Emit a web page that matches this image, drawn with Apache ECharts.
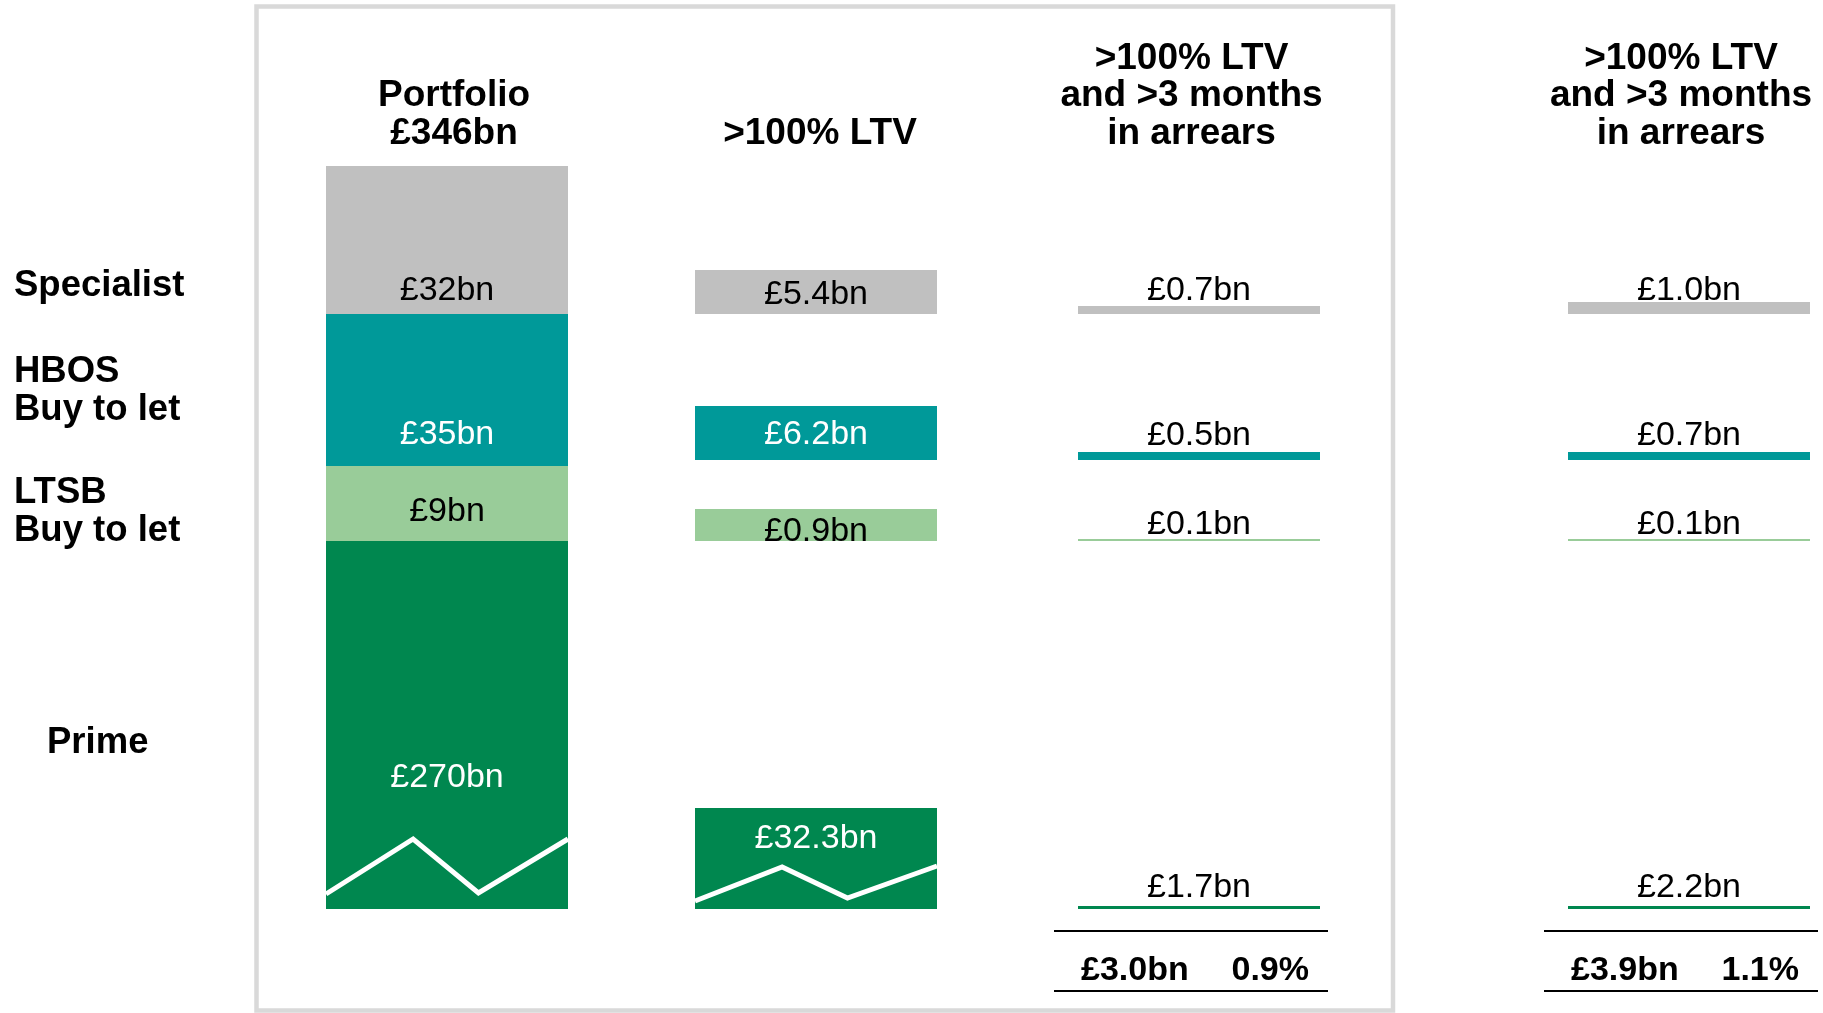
<!DOCTYPE html>
<html>
<head>
    <meta charset="utf-8">
    <title>Mortgage portfolio - LTV and arrears</title>
    <script src="https://cdn.jsdelivr.net/npm/echarts@6/dist/echarts.min.js"></script>
    <style type="text/css">
        html, body { margin: 0; padding: 0; background: #ffffff; }
        #main { width: 1823px; height: 1013px; }
    </style>
</head>
<body>
<div id="main"></div>
<script>
    // rows, bottom to top
    var rowNames = ['Prime', 'LTSB\nBuy to let', 'HBOS\nBuy to let', 'Specialist'];
    var rowColors = ['#00874f', '#99cc99', '#009999', '#c0c0c0'];
    var rowInsideText = ['#ffffff', '#000000', '#ffffff', '#000000'];

    // values in £bn, same row order
    var portfolioBn = [270, 9, 35, 32];
    var ltvOver100Bn = [32.3, 0.9, 6.2, 5.4];
    var arrearsBn = [1.7, 0.1, 0.5, 0.7];
    var arrearsBn2 = [2.2, 0.1, 0.7, 1.0];
    var arrearsTotalBn = [3.0, 3.9];
    var arrearsTotalPct = [0.9, 1.1];

    var portfolioTotal = portfolioBn.reduce(function (a, b) { return a + b; }, 0);
    var columnTitles = [
        'Portfolio\n£' + portfolioTotal + 'bn',
        '>100% LTV',
        '>100% LTV\nand >3 months\nin arrears',
        '>100% LTV\nand >3 months\nin arrears'
    ];

    // the picture is not drawn to scale: drawn heights per column (layout units = px)
    var bandBase = [0, 368, 449, 595];
    var drawnHeight = [[368, 75, 152, 148], [101, 32, 54, 44], [3, 2, 8, 8], [3, 2, 8, 12]];
    var labelLift = [[131.5, 29.5, 31.5, 23.5], [70.5, 9.5, 25.5, 19.5], [21.5, 16, 24.5, 23.5], [21.5, 16, 24.5, 23.5]];

    var columns = [
        {values: portfolioBn, decimals: 0, inside: true, continuous: true, left: 326, titlePad: [0, 0, 0, 14]},
        {values: ltvOver100Bn, decimals: 1, inside: true, continuous: false, left: 695, titlePad: [0, 0, 0, 8]},
        {values: arrearsBn, decimals: 1, inside: false, continuous: false, left: 1078, titlePad: [0, 15, 0, 0]},
        {values: arrearsBn2, decimals: 1, inside: false, continuous: false, left: 1568, titlePad: [0, 16, 0, 0]}
    ];

    var FONT = '"Liberation Sans", Arial, Helvetica, sans-serif';
    var BAR_W = 242;
    var VALUE_SIZE = 34;
    var Y_MIN = -101, Y_MAX = 903;

    var chart = echarts.init(document.getElementById('main'));

    function buildSeries(ci) {
        var c = columns[ci];
        var list = [];
        for (var r = 0; r < rowNames.length; r++) {
            list.push({
                name: rowNames[r],
                type: 'bar',
                stack: 'col' + ci,
                xAxisIndex: ci,
                yAxisIndex: ci,
                barWidth: BAR_W,
                silent: true,
                itemStyle: {color: rowColors[r]},
                label: {
                    show: true,
                    position: 'insideBottom',
                    distance: labelLift[ci][r] - VALUE_SIZE / 2,
                    color: c.inside ? rowInsideText[r] : '#000000',
                    fontFamily: FONT,
                    fontSize: VALUE_SIZE,
                    lineHeight: VALUE_SIZE,
                    formatter: '£' + c.values[r].toFixed(c.decimals) + 'bn'
                },
                data: [drawnHeight[ci][r]]
            });
            if (r < rowNames.length - 1) {
                list.push({
                    type: 'bar',
                    stack: 'col' + ci,
                    xAxisIndex: ci,
                    yAxisIndex: ci,
                    barWidth: BAR_W,
                    silent: true,
                    itemStyle: {color: 'transparent'},
                    data: [c.continuous ? 0 : bandBase[r + 1] - (bandBase[r] + drawnHeight[ci][r])]
                });
            }
        }
        return list;
    }

    var grids = [], xAxes = [], yAxes = [], series = [];
    columns.forEach(function (c, ci) {
        grids.push({left: c.left, top: 6, width: BAR_W, height: 1004, outerBoundsMode: 'none', containLabel: false});
        xAxes.push({
            type: 'category',
            gridIndex: ci,
            position: 'top',
            data: [columnTitles[ci]],
            axisLine: {show: false, onZero: false},
            axisTick: {show: false},
            axisLabel: {
                interval: 0,
                margin: -146.5,
                padding: c.titlePad,
                fontFamily: FONT,
                fontSize: 37,
                fontWeight: 'bold',
                lineHeight: 37.5,
                color: '#000000'
            }
        });
        yAxes.push({type: 'value', gridIndex: ci, min: Y_MIN, max: Y_MAX, show: false});
        series = series.concat(buildSeries(ci));
    });

    chart.setOption({
        backgroundColor: '#ffffff',
        animation: false,
        grid: grids,
        xAxis: xAxes,
        yAxis: yAxes,
        series: series
    });

    // decorations placed from the axes
    function px(ci, v) {
        return chart.convertToPixel({gridIndex: ci}, [0, v]);
    }

    var graphics = [];

    // frame around the first three columns
    graphics.push({
        type: 'rect', z: -1, silent: true,
        shape: {x: 256.5, y: 6.5, width: 1136.5, height: 1004},
        style: {fill: null, stroke: '#d9d9d9', lineWidth: 4.5}
    });

    // row names on the left
    var rowLabelLift = [166, 397, 518, 623.5];
    var rowLabelX = [47, 14, 14, 14];
    rowNames.forEach(function (name, r) {
        var p = px(0, rowLabelLift[r]);
        graphics.push({
            type: 'text', silent: true,
            x: rowLabelX[r], y: p[1],
            style: {
                text: name, fill: '#000000', font: 'bold 36.5px ' + FONT,
                lineHeight: 38.5, textAlign: 'left', textVerticalAlign: 'middle'
            }
        });
    });

    // zigzag break marks on the two large green bars
    var zigX = [0, 0.36, 0.63, 1];
    var zigLift = [[15, 70, 16, 70], [8, 42, 11, 43]];
    zigLift.forEach(function (lift, ci) {
        var pts = lift.map(function (v, k) {
            var p = px(ci, v);
            return [p[0] - BAR_W / 2 + zigX[k] * BAR_W, p[1]];
        });
        graphics.push({
            type: 'polyline', silent: true, z: 10,
            shape: {points: pts},
            style: {stroke: '#ffffff', lineWidth: 5, fill: null}
        });
    });

    // totals under the two arrears columns
    [2, 3].forEach(function (ci, t) {
        var top = px(ci, -22);
        var bottom = px(ci, -82);
        var mid = px(ci, -61.5);
        var cx = top[0];
        [top, bottom].forEach(function (p) {
            graphics.push({
                type: 'line', silent: true,
                shape: {x1: cx - 145, y1: p[1], x2: cx + 129, y2: p[1]},
                style: {stroke: '#000000', lineWidth: 2}
            });
        });
        graphics.push({
            type: 'text', silent: true, x: cx - 118, y: mid[1],
            style: {
                text: '£' + arrearsTotalBn[t].toFixed(1) + 'bn', fill: '#000000',
                font: 'bold 34px ' + FONT, textAlign: 'left', textVerticalAlign: 'middle'
            }
        });
        graphics.push({
            type: 'text', silent: true, x: cx + 110, y: mid[1],
            style: {
                text: arrearsTotalPct[t].toFixed(1) + '%', fill: '#000000',
                font: 'bold 34px ' + FONT, textAlign: 'right', textVerticalAlign: 'middle'
            }
        });
    });

    chart.setOption({graphic: graphics});
</script>
</body>
</html>
